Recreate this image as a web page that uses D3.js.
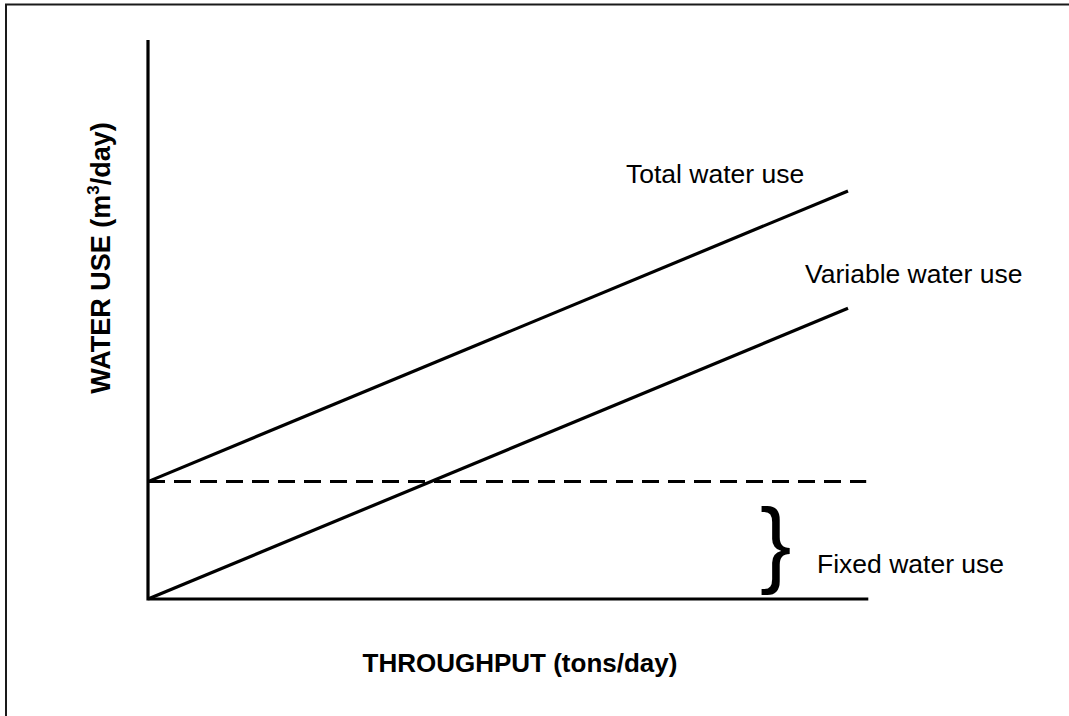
<!DOCTYPE html>
<html><head><meta charset="utf-8">
<script src="https://cdn.jsdelivr.net/npm/d3@7"></script>
<style>html,body{margin:0;padding:0;background:#fff;}svg{display:block;}</style>
</head><body>
<svg id="chart" width="1069" height="716"></svg>
<script>
// Conceptual data (arbitrary units)
const throughput = [0, 100];
const fixedUse = [21, 21];
const variableUse = [0, 52];
const totalUse = [21, 73];
const xAxisExtent = [0, 102.9];
const yAxisExtent = [0, 100];
const dashedExtent = [0, 102.6];
const seriesLabels = ["Total water use", "Variable water use", "Fixed water use"];
const xTitle = "THROUGHPUT (tons/day)";

const svg = d3.select("#chart");
const W = 1069, H = 716;
const font = "'Liberation Sans', Arial, sans-serif";

const x = d3.scaleLinear().domain([0, 100]).range([148, 848]);
const y = d3.scaleLinear().domain([0, 100]).range([599, 40]);

// outer frame
svg.append("rect").attr("x", 6).attr("y", 4.5).attr("width", W + 10).attr("height", H + 10)
  .attr("fill", "none").attr("stroke", "#1a1a1a").attr("stroke-width", 2);

const line = d3.line().x(d => x(d[0])).y(d => y(d[1]));

// axes
svg.append("path").attr("d", line([[0, yAxisExtent[1]], [0, 0], [xAxisExtent[1], 0]]))
  .attr("fill", "none").attr("stroke", "#000").attr("stroke-width", 3.2).attr("stroke-linejoin", "miter");

// fixed (dashed)
svg.append("path").attr("d", line([[dashedExtent[0], fixedUse[0]], [dashedExtent[1], fixedUse[1]]]))
  .attr("fill", "none").attr("stroke", "#000").attr("stroke-width", 3).attr("stroke-dasharray", "17,9");

// variable and total
[variableUse, totalUse].forEach(s => {
  svg.append("path").attr("d", line(throughput.map((t, i) => [t, s[i]])))
    .attr("fill", "none").attr("stroke", "#000").attr("stroke-width", 3.2);
});

// labels
svg.append("text").attr("x", 626).attr("y", 183).text(seriesLabels[0])
  .attr("font-family", font).attr("font-size", 26.5).attr("fill", "#000");
svg.append("text").attr("x", 805).attr("y", 283).text(seriesLabels[1])
  .attr("font-family", font).attr("font-size", 26.5).attr("fill", "#000");
svg.append("text").attr("x", 817).attr("y", 573).text(seriesLabels[2])
  .attr("font-family", font).attr("font-size", 26.5).attr("fill", "#000");

// brace
svg.append("text").attr("x", 760).attr("y", 575).text("}")
  .attr("font-family", font).attr("font-size", 94).attr("fill", "#000");

// x title
svg.append("text").attr("x", 520).attr("y", 672).attr("text-anchor", "middle").text(xTitle)
  .attr("font-family", font).attr("font-size", 26).attr("font-weight", "bold").attr("fill", "#000");

// y title
const yt = svg.append("text").attr("transform", "translate(110,258) rotate(-90)")
  .attr("text-anchor", "middle").attr("font-family", font).attr("font-size", 27)
  .attr("font-weight", "bold").attr("fill", "#000");
yt.append("tspan").text("WATER USE (m");
yt.append("tspan").text("3").attr("font-size", 17).attr("dy", -11);
yt.append("tspan").text("/day)").attr("dy", 11);
</script>
</body></html>
